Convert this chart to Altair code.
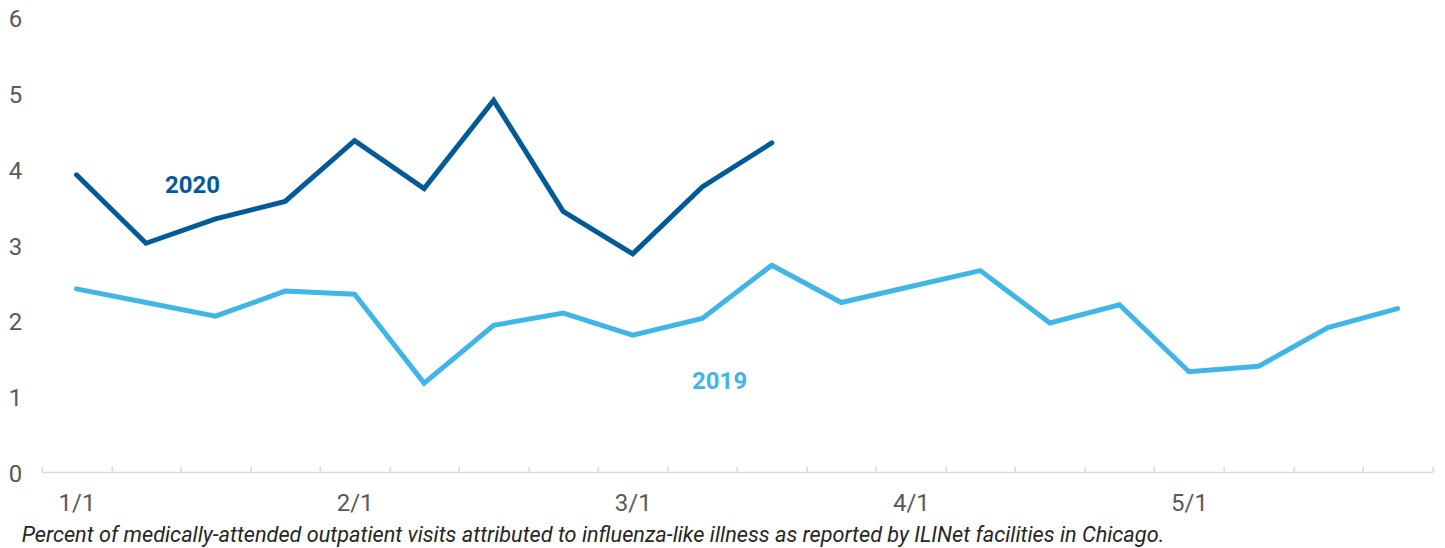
import altair as alt
import pandas as pd

# ---- data ----
weeks_2019 = list(range(20))
values_2019 = [2.41, 2.23, 2.05, 2.38, 2.34, 1.17, 1.93, 2.09, 1.80, 2.02,
               2.72, 2.23, 2.44, 2.65, 1.96, 2.20, 1.32, 1.39, 1.90, 2.15]
weeks_2020 = list(range(11))
values_2020 = [3.91, 3.01, 3.33, 3.56, 4.36, 3.73, 4.89, 3.43, 2.87, 3.75, 4.33]

series_names = ["2020", "2019"]
series_colors = ["#005a96", "#41b6e6"]

label_weeks = [0, 4, 8, 12, 16]
tick_labels = ["1/1", "2/1", "3/1", "4/1", "5/1"]

annot_series = ["2020", "2019"]
annot_x = [1.67, 9.25]
annot_y = [3.76, 1.18]

y_ticks = [0, 1, 2, 3, 4, 5, 6]
caption = ("Percent of medically-attended outpatient visits attributed to "
           "influenza-like illness as reported by ILINet facilities in Chicago.")

# ---- tables ----
df = pd.concat([
    pd.DataFrame({"series": "2019", "week": weeks_2019, "value": values_2019}),
    pd.DataFrame({"series": "2020", "week": weeks_2020, "value": values_2020}),
])
df_annot = pd.DataFrame({"series": annot_series, "week": annot_x, "value": annot_y})

n_weeks = len(weeks_2019)
x_domain = [-0.5, n_weeks - 0.5]
tick_vals = [i - 0.5 for i in range(n_weeks + 1)]

W, H = 1390.6, 456

x_scale = alt.Scale(domain=x_domain, nice=False, zero=False)
y_scale = alt.Scale(domain=[0, 6], nice=False)
color = alt.Color("series:N",
                  scale=alt.Scale(domain=series_names, range=series_colors),
                  legend=None)

label_expr = "[{}][indexof([{}], datum.value)]".format(
    ",".join("'" + t + "'" for t in tick_labels),
    ",".join(str(v) for v in label_weeks))

y_axis = alt.Axis(orient="left", values=y_ticks, domain=False, ticks=False,
                  grid=False, labelPadding=20, labelFontSize=24,
                  labelFont="Roboto", labelColor="#595959", labelAlign="right",
                  labelOffset=3, title=None)

lines = alt.Chart(df).mark_line(strokeWidth=5, strokeCap="round").encode(
    x=alt.X("week:Q", scale=x_scale,
            axis=alt.Axis(orient="bottom", values=label_weeks, labelExpr=label_expr,
                          ticks=False, domain=False, grid=False,
                          labelPadding=20, labelFontSize=24, labelFont="Roboto",
                          labelColor="#595959", title=None)),
    y=alt.Y("value:Q", scale=y_scale, axis=y_axis),
    color=color,
    detail="series:N",
)

annots = alt.Chart(df_annot).mark_text(
    fontSize=24, fontWeight="bold", font="Roboto", align="center", baseline="middle"
).encode(
    x=alt.X("week:Q", scale=x_scale,
            axis=alt.Axis(orient="top", offset=-H, values=tick_vals, labels=False,
                          ticks=True, tickSize=6, tickWidth=1.5, tickColor="#d9d9d9",
                          domain=True, domainColor="#d9d9d9", domainWidth=1.7,
                          grid=False, title=None)),
    y=alt.Y("value:Q", scale=y_scale, axis=y_axis),
    text="series:N",
    color=color,
)

chart = alt.layer(lines, annots).resolve_axis(x="independent", y="shared").properties(
    width=W,
    height=H,
    background="white",
    autosize=alt.AutoSizeParams(type="none"),
    padding={"left": 33.7, "top": 8, "right": 4, "bottom": 75},
    title=alt.TitleParams(text=caption, orient="bottom", anchor="start",
                          frame="group", font="Roboto", fontSize=21.7,
                          fontStyle="italic", fontWeight="normal",
                          color="#262626", dx=-20, offset=9, baseline="top"),
).configure_view(strokeWidth=0, stroke=None)

chart.save("out.html", embed_options={"renderer": "svg", "actions": False})
